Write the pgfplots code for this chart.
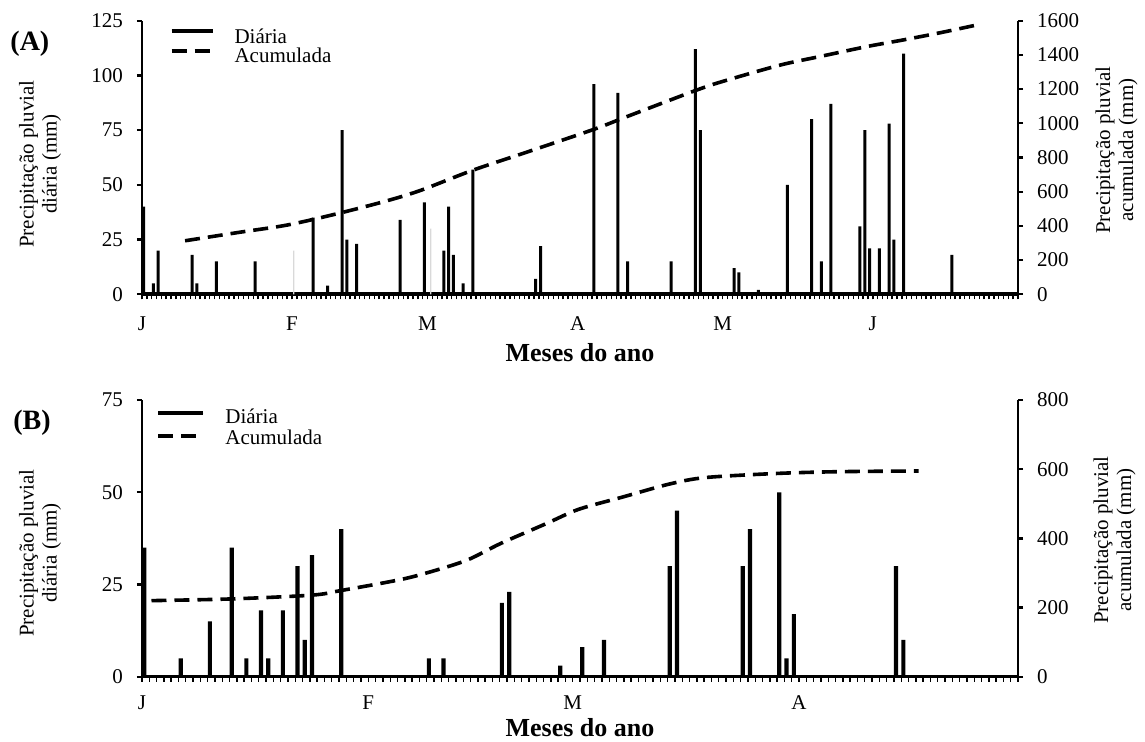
\documentclass[border=0pt]{standalone}
\usepackage{fontspec}
\setmainfont{Liberation Serif}
\usepackage{pgfplots}
\pgfplotsset{compat=1.18}
\usepackage{pgfplotstable}

% chuva diaria, painel A (dia a partir de 1 jan, mm)
\pgfplotstableread{
d mm
0 40
2 5
3 20
10 18
11 5
15 15
23 15
35 35
38 4
41 75
42 25
44 23
53 34
58 42
62 20
63 40
64 18
66 5
68 57
81 7
82 22
93 96
98 92
100 15
109 15
114 112
115 75
122 12
123 10
127 2
133 50
138 80
140 15
142 87
148 31
149 75
150 21
152 21
154 78
155 25
157 110
167 18
}\diariaA

% tracos claros no painel A
\pgfplotstableread{
d mm
31 20
59.3 30
}\claroA

% chuva diaria, painel B
\pgfplotstableread{
d mm
0 35
5 5
9 15
12 35
14 5
16 18
17 5
19 18
21 30
22 10
23 33
27 40
39 5
41 5
49 20
50 23
57 3
60 8
63 10
72 30
73 45
82 30
83 40
87 50
88 5
89 17
103 30
104 10
}\diariaB

\pgfplotsset{
  painel/.style={
    scale only axis, width=438pt,
    tick align=outside,
    major tick length=2.5pt, minor tick length=2.5pt,
    tick label style={font=\fontsize{10.5}{12}\selectfont},
    label style={font=\fontsize{10.5}{11.5}\selectfont, align=center},
    /pgf/number format/assume math mode=true,
    /pgf/number format/1000 sep={},
    scaled y ticks=false,
    y axis line style={-, line width=1.1pt},
    ytick style={line width=1.1pt, black},
  },
  esquerdo/.style={
    painel, clip=false,
    axis x line*=bottom, axis y line*=left,
    x axis line style={-, line width=1.8pt},
    xtick style={line width=0.7pt, black},
    xticklabel style={anchor=base, font=\fontsize{10.5}{12}\selectfont},
    yticklabel style={xshift=-3.5pt},
    xlabel={Meses do ano},
    xlabel style={font=\bfseries\fontsize{13}{14}\selectfont, at={(axis description cs:0.5,0)}, anchor=center},
    legend cell align=left,
    legend style={draw=none, fill=none, inner sep=0pt,
      font=\fontsize{10.5}{10.5}\selectfont, column sep=8pt},
  },
  direito/.style={
    painel,
    axis x line=none, axis y line*=right,
    yticklabel style={xshift=3.5pt},
  },
  acumulada/.style={black, line width=1.8pt, dash pattern=on 7.5pt off 4pt, smooth},
}

\begin{document}
\begin{tikzpicture}
\path[use as bounding box] (-71pt,-223.85pt) rectangle (501.5pt,147.15pt);

% ---------- (A) ----------
\begin{axis}[esquerdo, height=136.8pt,
  xmin=0, xmax=181, ymin=0, ymax=125,
  xtick={0,31,59,90,120,151}, xticklabels={J,F,M,A,M,J},
  minor xtick={0,...,181},
  xticklabel style={yshift=-15.6pt},
  xlabel style={yshift=-29.35pt},
  ytick={0,25,...,125},
  ylabel={Precipitação pluvial\\diária (mm)},
  ylabel style={at={(axis description cs:-0.1164,0.476)}, anchor=center},
  legend style={at={(axis description cs:0.031,0.985)}, anchor=north west, row sep=-3.5pt},
]
\addplot[ybar, bar width=1.5pt, fill=black, draw=none,
  legend image code/.code={\draw[black, line width=2pt] (0pt,3.5pt) -- (20.5pt,3.5pt);}]
  table[x expr=\thisrow{d}+0.35, y=mm]{\diariaA};
\addlegendentry{Diária}
\addplot[ybar, bar width=0.6pt, fill=black!15, draw=none, forget plot]
  table[x expr=\thisrow{d}+0.35, y=mm]{\claroA};
\addlegendimage{legend image code/.code={\draw[black, line width=2pt, dash pattern=on 7.5pt off 4pt] (0pt,3pt) -- (20.5pt,3pt);}}
\addlegendentry{Acumulada}
\node[font=\bfseries\fontsize{14}{14}\selectfont] at (axis description cs:-0.128,0.915) {(A)};
\end{axis}

\begin{axis}[direito, height=136.8pt,
  xmin=0, xmax=181, ymin=0, ymax=1600,
  ytick={0,200,...,1600},
  ylabel={Precipitação pluvial\\acumulada (mm)},
  ylabel style={at={(axis description cs:1.1125,0.527)}, anchor=center},
]
\addplot[acumulada] coordinates {
  (8.9,313) (20,362) (30,405) (40,469) (50,542) (57.4,606) (68.4,726)
  (80,836) (93.4,965) (100,1037) (114.3,1191) (120,1245) (131.8,1340)
  (140,1390) (150,1450) (157.2,1487) (165,1530) (172.5,1575)
};
\end{axis}

% ---------- (B) ----------
\begin{axis}[esquerdo, at={(0,-191.2pt)}, height=138.3pt,
  xmin=0, xmax=120, ymin=0, ymax=75,
  xtick={0,31,59,90}, xticklabels={J,F,M,A},
  minor xtick={0,...,120},
  xticklabel style={yshift=-13.9pt},
  xlabel style={yshift=-25.65pt},
  ytick={0,25,50,75},
  ylabel={Precipitação pluvial\\diária (mm)},
  ylabel style={at={(axis description cs:-0.1164,0.447)}, anchor=center},
  legend style={at={(axis description cs:0.016,0.985)}, anchor=north west, row sep=-2pt},
]
\addplot[ybar, bar width=2.1pt, fill=black, draw=none,
  legend image code/.code={\draw[black, line width=2pt] (0pt,2pt) -- (22.5pt,2pt);}]
  table[x expr=\thisrow{d}+0.3, y=mm]{\diariaB};
\addlegendentry{Diária}
\addlegendimage{legend image code/.code={\draw[black, line width=2pt, dash pattern=on 7.5pt off 4pt] (0pt,1.5pt) -- (22.5pt,1.5pt);}}
\addlegendentry{Acumulada}
\node[font=\bfseries\fontsize{14}{14}\selectfont] at (axis description cs:-0.1256,0.917) {(B)};
\end{axis}

\begin{axis}[direito, at={(0,-191.2pt)}, height=138.3pt,
  xmin=0, xmax=120, ymin=0, ymax=800,
  ytick={0,200,...,800},
  ylabel={Precipitação pluvial\\acumulada (mm)},
  ylabel style={at={(axis description cs:1.1102,0.494)}, anchor=center},
]
\addplot[acumulada] coordinates {
  (1.3,220) (12.3,225) (23.3,236) (27.2,249) (35.2,280) (39.3,302)
  (44.5,337) (49.2,386) (55.4,443) (59.8,484) (65.9,520) (72.2,557)
  (77.2,576) (87.1,588) (95.5,593) (106.4,595)
};
\end{axis}
\end{tikzpicture}
\end{document}
